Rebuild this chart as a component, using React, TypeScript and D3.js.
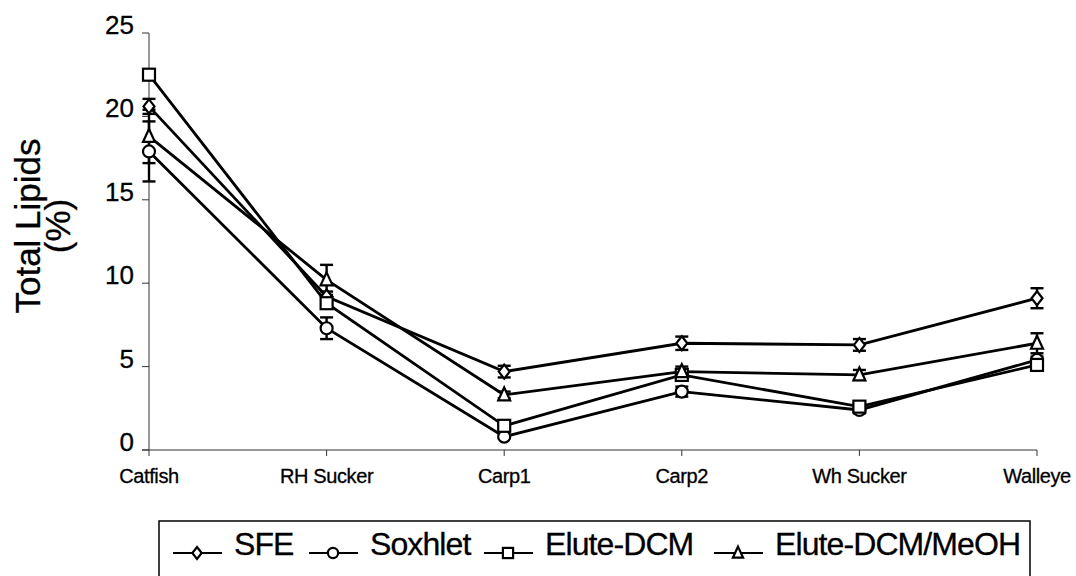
import React from 'react';
import * as d3 from 'd3';

const categories = ['Catfish', 'RH Sucker', 'Carp1', 'Carp2', 'Wh Sucker', 'Walleye'];
const yTicks = [0, 5, 10, 15, 20, 25];

const sfe = [20.6, 9.2, 4.7, 6.4, 6.3, 9.1];
const sfeErr = [0.45, 0.3, 0.35, 0.4, 0.35, 0.6];
const soxhlet = [17.9, 7.3, 0.8, 3.5, 2.4, 5.4];
const soxhletErr = [1.8, 0.65, 0.1, 0.3, 0.2, 0.2];
const eluteDcm = [22.5, 8.8, 1.45, 4.5, 2.6, 5.1];
const eluteDcmErr = [0.3, 0.3, 0.1, 0.2, 0.2, 0.2];
const eluteMeoh = [18.8, 10.2, 3.3, 4.7, 4.5, 6.4];
const eluteMeohErr = [1.6, 0.9, 0.2, 0.3, 0.3, 0.6];

type Shape = 'diamond' | 'circle' | 'square' | 'triangle';

const series: { name: string; values: number[]; errors: number[]; shape: Shape }[] = [
  { name: 'SFE', values: sfe, errors: sfeErr, shape: 'diamond' },
  { name: 'Soxhlet', values: soxhlet, errors: soxhletErr, shape: 'circle' },
  { name: 'Elute-DCM', values: eluteDcm, errors: eluteDcmErr, shape: 'square' },
  { name: 'Elute-DCM/MeOH', values: eluteMeoh, errors: eluteMeohErr, shape: 'triangle' },
];

// legend item anchors (layout only)
const legendX = [197, 333, 508, 738];

const FONT = '"Liberation Sans", Arial, sans-serif';

const Marker: React.FC<{ shape: Shape; x: number; y: number; s?: number }> = ({ shape, x, y, s = 1 }) => {
  const common = { fill: '#fff', stroke: '#000', strokeWidth: 2.2 };
  if (shape === 'circle') return <circle cx={x} cy={y} r={6 * s} {...common} />;
  if (shape === 'square') return <rect x={x - 6 * s} y={y - 6 * s} width={12 * s} height={12 * s} {...common} />;
  if (shape === 'diamond')
    return <path d={`M${x},${y - 7 * s}L${x + 5.5 * s},${y}L${x},${y + 7 * s}L${x - 5.5 * s},${y}Z`} {...common} />;
  return <path d={`M${x},${y - 7.5 * s}L${x + 6 * s},${y + 5.5 * s}L${x - 6 * s},${y + 5.5 * s}Z`} {...common} />;
};

const App: React.FC = () => {
  const x = d3.scalePoint<string>().domain(categories).range([149, 1037]);
  const y = d3.scaleLinear().domain([0, 25]).range([450, 33]);
  const line = d3
    .line<number>()
    .x((_, i) => x(categories[i]) || 0)
    .y((d) => y(d));

  return (
    <svg
      width={1076}
      height={576}
      style={{ position: 'absolute', left: 0, top: 0, background: '#fff' }}
      fontFamily={FONT}
    >
      {/* y axis */}
      <line x1={149} x2={149} y1={y(25)} y2={y(0)} stroke="#333" strokeWidth={1} />
      {yTicks.map((t) => (
        <g key={t}>
          <line x1={142} x2={149} y1={y(t)} y2={y(t)} stroke="#333" strokeWidth={1} />
          <text x={134} y={y(t) + 1} textAnchor="end" fontSize={26} stroke="#000" strokeWidth={0.3}>
            {t}
          </text>
        </g>
      ))}
      {/* x axis */}
      <line x1={142} x2={1037} y1={y(0)} y2={y(0)} stroke="#333" strokeWidth={1} />
      {categories.map((c) => (
        <g key={c}>
          <line x1={x(c)} x2={x(c)} y1={y(0)} y2={y(0) + 6} stroke="#333" strokeWidth={1} />
          <text x={x(c)} y={483} textAnchor="middle" fontSize={20} letterSpacing={-0.4} stroke="#000" strokeWidth={0.3}>
            {c}
          </text>
        </g>
      ))}
      {/* axis title */}
      <text transform="translate(40,226) rotate(-90)" textAnchor="middle" fontSize={35} stroke="#000" strokeWidth={0.3}>
        Total Lipids
      </text>
      <text transform="translate(70,226) rotate(-90)" textAnchor="middle" fontSize={35} stroke="#000" strokeWidth={0.3}>
        (%)
      </text>

      {/* lines */}
      {series.map((s) => (
        <path key={s.name} d={line(s.values) || ''} fill="none" stroke="#000" strokeWidth={2.8} />
      ))}
      {/* error bars */}
      {series.map((s) =>
        s.values.map((v, i) => {
          const cx = x(categories[i]) || 0;
          const hi = y(v + s.errors[i]);
          const lo = y(v - s.errors[i]);
          return (
            <g key={s.name + i} stroke="#000" strokeWidth={2.4}>
              <line x1={cx} x2={cx} y1={hi} y2={lo} />
              <line x1={cx - 6.5} x2={cx + 6.5} y1={hi} y2={hi} />
              <line x1={cx - 6.5} x2={cx + 6.5} y1={lo} y2={lo} />
            </g>
          );
        })
      )}
      {/* markers */}
      {series.map((s) =>
        s.values.map((v, i) => (
          <Marker key={s.name + 'm' + i} shape={s.shape} x={x(categories[i]) || 0} y={y(v)} />
        ))
      )}

      {/* legend */}
      <rect x={159} y={521} width={871} height={80} fill="none" stroke="#000" strokeWidth={1.5} />
      {series.map((s, i) => {
        const cx = legendX[i];
        return (
          <g key={s.name + 'leg'}>
            <line x1={cx - 24} x2={cx + 25} y1={553} y2={553} stroke="#000" strokeWidth={2} />
            <Marker shape={s.shape} x={cx} y={553} s={0.85} />
            <text x={cx + 37} y={555} fontSize={32} letterSpacing={-0.9} stroke="#000" strokeWidth={0.3}>
              {s.name}
            </text>
          </g>
        );
      })}
    </svg>
  );
};

export default App;
